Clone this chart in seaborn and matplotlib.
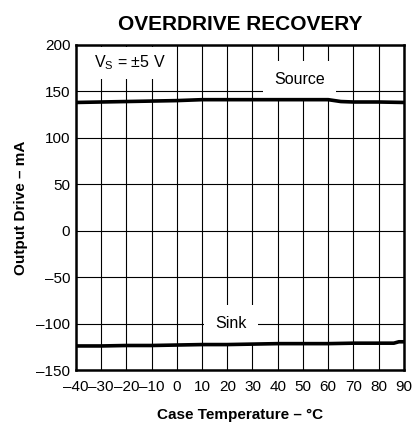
import numpy as np
import pandas as pd
import seaborn as sns
import matplotlib.pyplot as plt

# values
temp = [-40, -30, -20, -10, 0, 10, 20, 30, 40, 50, 60, 65, 70, 80, 90]
source_ma = [138, 138.5, 139, 139.5, 140, 141, 141, 141, 141, 141, 141, 139, 138.5, 138.5, 138]
temp_sink = [-40, -30, -20, -10, 0, 10, 20, 30, 40, 50, 60, 70, 80, 86, 88, 90]
sink_ma = [-124, -124, -123.5, -123.5, -123, -122.5, -122.5, -122, -121.5, -121.5, -121.5, -121, -121, -121, -119.5, -119.5]

xticks = list(range(-40, 91, 10))
yticks = list(range(-150, 201, 50))

df = pd.concat([
    pd.DataFrame({'temp': temp, 'ma': source_ma, 'curve': 'Source'}),
    pd.DataFrame({'temp': temp_sink, 'ma': sink_ma, 'curve': 'Sink'}),
])

sns.set_style('white')
plt.rcParams['font.family'] = ['Liberation Sans', 'DejaVu Sans']
plt.rcParams.update({'text.color': 'black', 'axes.labelcolor': 'black',
                     'xtick.color': 'black', 'ytick.color': 'black'})

fig = plt.figure(figsize=(4.19, 4.23), dpi=100)
ax = fig.add_axes([0.181, 0.125, 0.783, 0.769])

sns.lineplot(data=df, x='temp', y='ma', units='curve', estimator=None,
             color='black', lw=2.6, ax=ax, zorder=3, legend=False)

ax.set_xlim(-40, 90)
ax.set_ylim(-150, 200)
ax.set_xticks(xticks)
ax.set_yticks(yticks)
ax.set_xticklabels([str(t).replace('-', '–') for t in xticks], fontsize=11)
ax.set_yticklabels([str(t).replace('-', '–') for t in yticks], fontsize=11)
ax.tick_params(axis='x', length=0, pad=7)
ax.tick_params(axis='y', length=0, pad=4)
ax.grid(True, color='black', lw=0.8)
ax.set_axisbelow(True)
for s in ax.spines.values():
    s.set_linewidth(1.8)
    s.set_color('black')

ax.text(-33, 180.5, r'V$_\mathregular{S}$ = ±5 V', fontsize=11.5, va='center', ha='left',
        bbox=dict(facecolor='white', edgecolor='none', pad=5), zorder=2)
ax.text(48.8, 163, 'Source', fontsize=11.5, va='center', ha='center',
        bbox=dict(facecolor='white', edgecolor='none', pad=8), zorder=2)
ax.text(21.5, -100.3, 'Sink', fontsize=11.5, va='center', ha='center',
        bbox=dict(facecolor='white', edgecolor='none', pad=8), zorder=2)

ax.set_title('OVERDRIVE RECOVERY', fontsize=15, fontweight='bold', pad=11, color='black')
ax.set_xlabel('Case Temperature – °C', fontsize=11, fontweight='bold', labelpad=10)
ax.set_ylabel('Output Drive – mA', fontsize=11, fontweight='bold', labelpad=6)

fig.savefig('out.png', dpi=100)
